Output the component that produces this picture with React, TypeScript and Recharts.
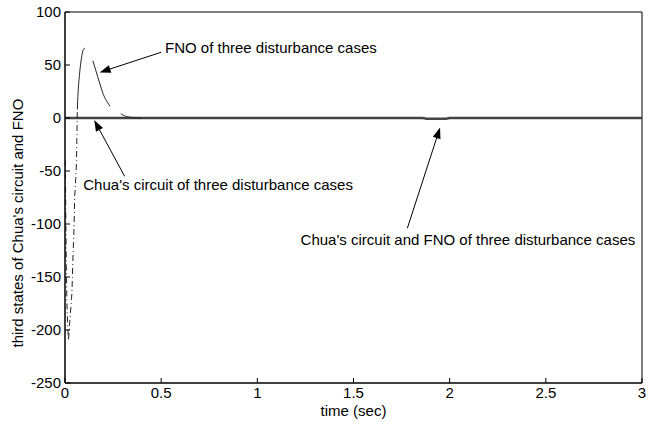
import React from 'react';
import { LineChart, Line, XAxis, YAxis, ReferenceLine, ReferenceDot, ReferenceArea } from 'recharts';

const xTicks = [0, 0.5, 1, 1.5, 2, 2.5, 3];
const yTicks = [-250, -200, -150, -100, -50, 0, 50, 100];

const chuaTime = [0.002, 0.004, 0.007, 0.01, 0.014, 0.018, 0.022, 0.026, 0.03, 0.034, 0.036, 0.04, 0.044, 0.047, 0.05, 0.056, 0.06, 0.062, 0.064];
const chuaValue = [-40, -90, -140, -175, -195, -210, -200, -188, -180, -170, -165, -140, -118, -103, -75, -57, -40, -15, 8];

const fnoTime = [0.064, 0.068, 0.075, 0.082, 0.09, 0.097, 0.104, 0.12, 0.145, 0.16, 0.18, 0.2, 0.22, 0.234, 0.26, 0.29, 0.31, 0.35, 0.4];
const fnoValue = [8, 24, 40, 52, 61, 65, 66, null, 54, 45, 33, 22, 15, 11, null, 4, 2, 0.5, 0];

const convTime = [0, 0.5, 1, 1.5, 1.86, 1.88, 1.98, 2.0, 2.5, 3];
const convValue = [0, 0, 0, 0, 0, -0.6, -0.6, 0, 0, 0];

const labelText = ['FNO of three disturbance cases', "Chua's circuit of three disturbance cases", "Chua's circuit and FNO of three disturbance cases"];
const labelT = [0.52, 0.095, 1.225];
const labelV = [66, -63, -115];
const arrowFromT = [0.5, 0.31, 1.78];
const arrowFromV = [62, -55, -104];
const arrowToT = [0.18, 0.152, 1.95];
const arrowToV = [43, -2, -9];

const toRows = (t: number[], v: (number | null)[]) => t.map((x, i) => ({ t: x, v: v[i] }));
const chuaData = toRows(chuaTime, chuaValue);
const fnoData = toRows(fnoTime, fnoValue);
const convData = toRows(convTime, convValue);

const FONT = 'Liberation Sans, Arial, sans-serif';

const Arrow = (props: any) => {
  const { x1, y1, x2, y2 } = props;
  const ang = Math.atan2(y2 - y1, x2 - x1);
  const L = 11, W = 4;
  const bx = x2 - L * Math.cos(ang), by = y2 - L * Math.sin(ang);
  const px = -Math.sin(ang) * W, py = Math.cos(ang) * W;
  return (
    <g>
      <line x1={x1} y1={y1} x2={bx} y2={by} stroke="#000" strokeWidth={1} />
      <polygon points={`${x2},${y2} ${bx + px},${by + py} ${bx - px},${by - py}`} fill="#000" />
    </g>
  );
};

export default function App() {
  return (
    <div style={{ position: 'absolute', left: 0, top: 0, background: '#fff' }}>
      <LineChart width={662} height={427} margin={{ top: 12, right: 20, bottom: 14, left: 0 }}>
        <XAxis dataKey="t" type="number" domain={[0, 3]} ticks={xTicks} allowDataOverflow
          axisLine={{ stroke: '#000' }} tickLine={{ stroke: '#000' }} tickSize={-5} tickMargin={9} height={30}
          tick={{ fill: '#000', fontSize: 15, fontFamily: FONT }}
          label={{ value: 'time (sec)', position: 'insideBottom', offset: -3, fill: '#000', fontSize: 15, fontFamily: FONT }} />
        <XAxis xAxisId="top" orientation="top" dataKey="t" type="number" domain={[0, 3]} ticks={xTicks} height={0}
          axisLine={{ stroke: '#000' }} tickLine={{ stroke: '#000' }} tickSize={-5} tickFormatter={() => ''} />
        <YAxis type="number" domain={[-250, 100]} ticks={yTicks} width={65} allowDataOverflow
          axisLine={{ stroke: '#000' }} tickLine={{ stroke: '#000' }} tickSize={-5} tickMargin={9}
          tick={{ fill: '#000', fontSize: 15, fontFamily: FONT }}
          label={{ value: "third states of Chua's circuit and FNO", angle: -90, position: 'insideLeft', offset: 18, dy: 150, fill: '#000', fontSize: 15, fontFamily: FONT }} />
        <YAxis yAxisId="right" orientation="right" type="number" domain={[-250, 100]} ticks={yTicks} width={0}
          axisLine={{ stroke: '#000' }} tickLine={{ stroke: '#000' }} tickSize={-5} tickFormatter={() => ''} />
        <ReferenceArea x1={0} x2={3} y1={-250} y2={100} fill="none" stroke="#000" strokeWidth={1} ifOverflow="visible" />
        <Line data={convData} dataKey="v" type="linear" stroke="#444" strokeWidth={2.5} dot={false} isAnimationActive={false} />
        <Line data={chuaData} dataKey="v" type="linear" stroke="#222" strokeWidth={1} strokeDasharray="6 3 1 3" dot={false} isAnimationActive={false} />
        <Line data={fnoData} dataKey="v" type="monotone" stroke="#222" strokeWidth={1} dot={false} connectNulls={false} isAnimationActive={false} />
        {labelText.map((s, i) => (
          <ReferenceLine key={'a' + i} segment={[{ x: arrowFromT[i], y: arrowFromV[i] }, { x: arrowToT[i], y: arrowToV[i] }]}
            shape={Arrow} ifOverflow="visible" />
        ))}
        {labelText.map((s, i) => (
          <ReferenceDot key={'l' + i} x={labelT[i]} y={labelV[i]} r={0} fill="none" stroke="none" ifOverflow="visible"
            label={{ value: s, position: 'right', offset: 0, fill: '#000', fontSize: 15, fontFamily: FONT }} />
        ))}
      </LineChart>
    </div>
  );
}
